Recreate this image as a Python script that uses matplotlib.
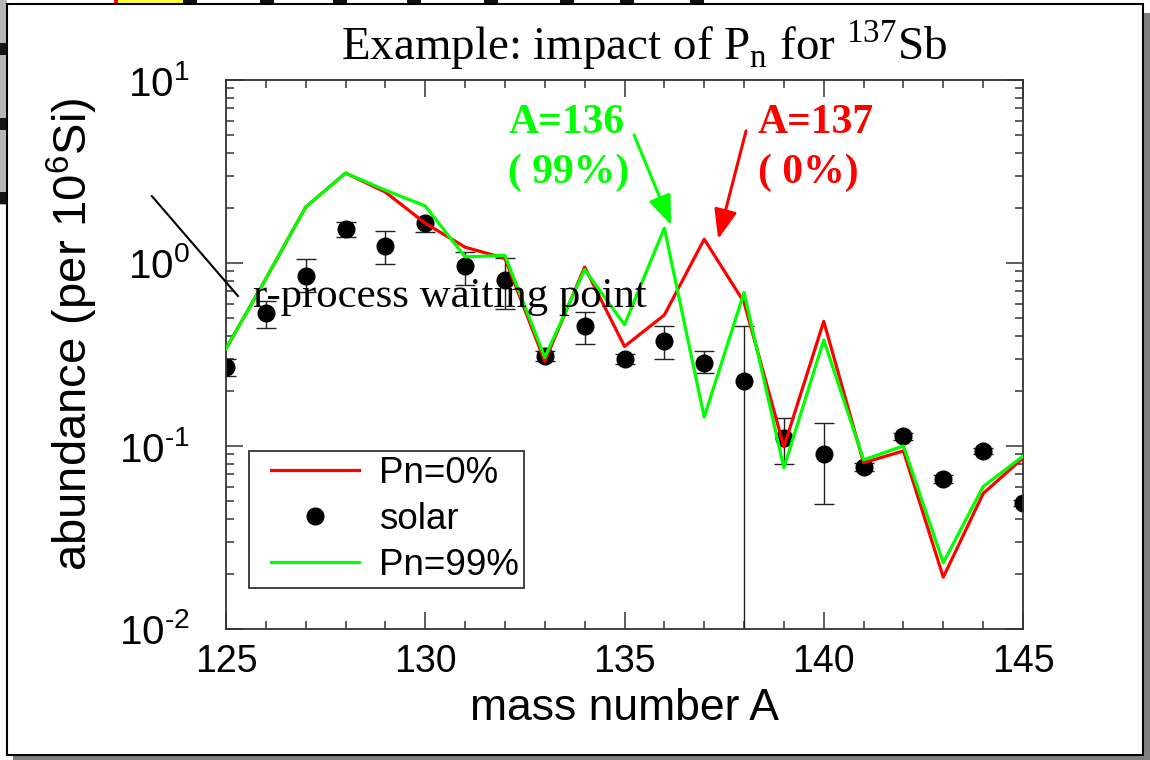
import numpy as np
import matplotlib
matplotlib.use("Agg")
import matplotlib.pyplot as plt
from matplotlib.patches import Rectangle, FancyArrowPatch
from matplotlib.lines import Line2D
from matplotlib.ticker import FixedLocator, FuncFormatter, NullFormatter, MultipleLocator
from matplotlib.legend_handler import HandlerLine2D

plt.rcParams['font.family'] = ['Liberation Sans', 'DejaVu Sans']

# ---- data -------------------------------------------------------------
mass = np.arange(125, 146)
pn0 = [0.34, 0.82, 2.02, 3.1, 2.44, 1.65, 1.22, 1.06, 0.29, 0.95, 0.35,
       0.52, 1.35, 0.61, 0.099, 0.48, 0.081, 0.094, 0.0192, 0.055, 0.086]
pn99 = [0.34, 0.82, 2.02, 3.1, 2.5, 2.05, 1.08, 1.1, 0.305, 0.92, 0.46,
        1.55, 0.144, 0.69, 0.076, 0.38, 0.084, 0.10, 0.023, 0.060, 0.088]
solar = [0.27, 0.53, 0.85, 1.53, 1.24, 1.65, 0.96, 0.81, 0.31, 0.45, 0.30,
         0.375, 0.285, 0.227, 0.11, 0.09, 0.077, 0.113, 0.066, 0.094, 0.049]
solar_hi = [0.30, 0.62, 1.05, 1.67, 1.50, 1.78, 1.15, 1.06, 0.33, 0.54, 0.32,
            0.45, 0.33, 0.45, 0.142, 0.134, 0.081, 0.118, 0.069, 0.098, 0.051]
solar_lo = [0.24, 0.44, 0.69, 1.39, 0.99, 1.48, 0.76, 0.56, 0.29, 0.36, 0.28,
            0.30, 0.25, 0.001, 0.080, 0.048, 0.073, 0.108, 0.063, 0.090, 0.047]

x_ticks = [125, 130, 135, 140, 145]
y_ticks = [1e-2, 1e-1, 1e0, 1e1]

RED = '#ff0000'
GREEN = '#00ff00'
SERIF = ['Liberation Serif', 'DejaVu Serif']

W, H = 1150, 760
fig = plt.figure(figsize=(W / 100, H / 100), dpi=100)
fig.patch.set_facecolor('white')

# ---- slide backdrop (pixel coordinates) -------------------------------
bg = fig.add_axes([0, 0, 1, 1], zorder=-10)
bg.set_xlim(0, W)
bg.set_ylim(H, 0)
bg.axis('off')
bg.add_patch(Rectangle((0, 0), 7, 205, facecolor='#b8b8b8', edgecolor='none'))
for y0 in (43, 118, 192):
    bg.add_patch(Rectangle((0, y0), 7, 12, facecolor='#151515', edgecolor='none'))
bg.add_patch(Rectangle((0, 0), 7, 4, facecolor='#b8b8b8', edgecolor='none'))
bg.add_patch(Rectangle((114, 0), 4, 4, facecolor='#ff0000', edgecolor='none'))
bg.add_patch(Rectangle((118, 0), 65, 4, facecolor='#ffff33', edgecolor='none'))
for x0 in (183, 260, 333, 407, 484, 560, 620, 690):
    bg.add_patch(Rectangle((x0, 0), 14, 4, facecolor='#111111', edgecolor='none'))
bg.add_patch(Rectangle((13, 13), W - 13, H - 13, facecolor='#808080', edgecolor='none'))
bg.add_patch(Rectangle((7, 4), 1136, 751, facecolor='white', edgecolor='black', linewidth=1.5))

# ---- main axes ----------------------------------------------------------
ax = fig.add_axes([226 / W, 1 - 629 / H, 797 / W, 549 / H])
ax.patch.set_visible(False)
ax.set_yscale('log')
ax.set_xlim(125, 145)
ax.set_ylim(1e-2, 1e1)

ax.errorbar(mass, solar,
            yerr=[np.array(solar) - np.array(solar_lo), np.array(solar_hi) - np.array(solar)],
            fmt='o', color='black', ms=12, ecolor='#222222', elinewidth=1.0,
            capsize=7, capthick=1.0, zorder=2)
line0, = ax.plot(mass, pn0, color=RED, lw=2.3, zorder=3)
line99, = ax.plot(mass, pn99, color=GREEN, lw=2.3, zorder=4)
solar_key = Line2D([], [], ls='none', marker='o', ms=12, color='black')

# ticks
ax.xaxis.set_major_locator(FixedLocator(x_ticks))
ax.xaxis.set_minor_locator(MultipleLocator(1))
ax.yaxis.set_major_locator(FixedLocator(y_ticks))
ax.yaxis.set_minor_locator(FixedLocator(
    [m * 10.0 ** e for e in range(-2, 1) for m in range(2, 10)]))
ax.yaxis.set_minor_formatter(NullFormatter())
ax.yaxis.set_major_formatter(FuncFormatter(
    lambda v, p: r'$\mathregular{10^{%s}}$' % str(int(round(np.log10(v)))).replace('-', '\u2010')))
ax.tick_params(which='both', direction='in', top=True, right=True,
               color='#333333', width=1.1)
ax.tick_params(which='major', length=12)
ax.tick_params(which='minor', length=6)
ax.tick_params(axis='x', which='major', labelsize=27, pad=11)
ax.tick_params(axis='y', which='major', labelsize=29, pad=26)
for s in ax.spines.values():
    s.set_color('#333333')
    s.set_linewidth(1.3)

# legend: lines start a little in from the left, symbol sits at the right end
class KeyHandler(HandlerLine2D):
    def get_xdata(self, legend, xdescent, ydescent, width, height, fontsize):
        x0 = -xdescent + 0.16 * width
        x1 = -xdescent + width
        return np.array([x0, x1]), np.array([-xdescent + 0.98 * width])

handler = KeyHandler()
leg = ax.legend([line0, solar_key, line99], ['Pn=0%', 'solar', 'Pn=99%'],
                loc='lower left', bbox_to_anchor=(0.029, 0.075), borderaxespad=0,
                fontsize=26.5, handlelength=2.85, handletextpad=0.55, labelspacing=0.3,
                borderpad=0.13, fancybox=False, framealpha=1, edgecolor='#333333',
                numpoints=1,
                handler_map={line0: handler, solar_key: handler, line99: handler})
leg.get_frame().set_linewidth(1.3)

# annotations
ax.plot([123.14, 125.3], [2.32, 0.66], color='black', lw=1.5, clip_on=False, zorder=5)
ax.text(125.68, 0.575, 'r-process waiting point', family=SERIF, fontsize=30.8,
        va='baseline', ha='left', zorder=6)

ax.text(132.08, 5.13, 'A=136', color=GREEN, family=SERIF, fontweight='bold',
        fontsize=30, va='baseline', ha='left')
ax.text(132.08, 2.74, '( 99%)', color=GREEN, family=SERIF, fontweight='bold',
        fontsize=30, va='baseline', ha='left')
ax.text(138.35, 5.13, 'A=137', color=RED, family=SERIF, fontweight='bold',
        fontsize=30, va='baseline', ha='left')
ax.text(138.35, 2.74, '( 0%)', color=RED, family=SERIF, fontweight='bold',
        fontsize=30, va='baseline', ha='left')

for (x0, y0), (x1, y1), c in (((135.24, 5.01), (136.17, 1.61), GREEN),
                              ((138.05, 5.27), (137.35, 1.35), RED)):
    ax.add_patch(FancyArrowPatch((x0, y0), (x1, y1),
                                 arrowstyle='-|>,head_length=0.9,head_width=0.35',
                                 mutation_scale=20, color=c, lw=2.2,
                                 shrinkA=0, shrinkB=0, zorder=6))

# titles and axis labels
fig.text(644 / W, 1 - 60 / H,
         r'Example: impact of P$_\mathregular{n}$ for $^\mathregular{137}$Sb',
         family=SERIF, fontsize=33.8, ha='center', va='baseline')
fig.text(624 / W, 1 - 708 / H, 'mass number A', fontsize=32, ha='center', va='center')
fig.text(72 / W, 1 - 334 / H, r'abundance (per 10$^\mathregular{6}$Si)', fontsize=34,
         rotation=90, ha='center', va='center')

fig.savefig('out.png', dpi=100)
